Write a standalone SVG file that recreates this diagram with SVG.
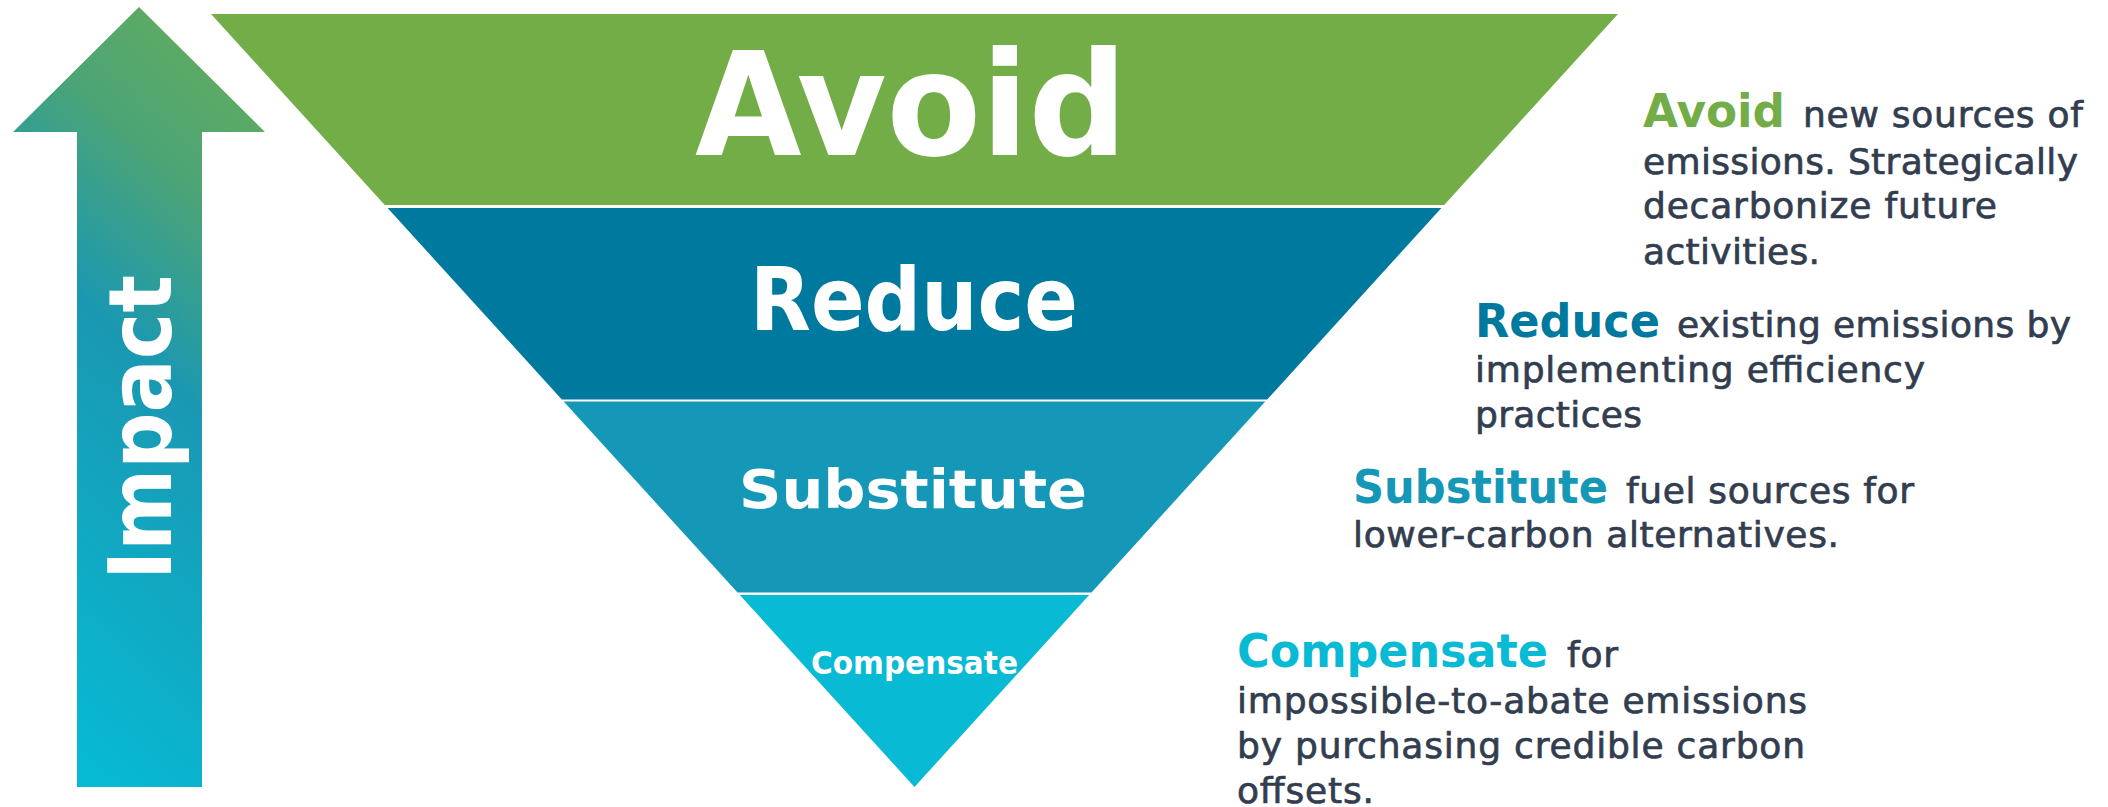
<svg xmlns="http://www.w3.org/2000/svg" width="2108" height="807" viewBox="0 0 2108 807">
  <defs>
    <linearGradient id="arrowGrad" x1="0.65" y1="0" x2="0.35" y2="1">
      <stop offset="0" stop-color="#60AB60"/>
      <stop offset="0.2" stop-color="#4CA476"/>
      <stop offset="0.45" stop-color="#1A98B2"/>
      <stop offset="1" stop-color="#07BAD4"/>
    </linearGradient>
    <style>
      .lbl { font-family: "DejaVu Sans", "Liberation Sans", sans-serif; font-weight: bold; fill: #FFFFFF; text-anchor: middle; }
      .head { font-family: "DejaVu Sans", "Liberation Sans", sans-serif; font-weight: bold; font-size: 47px; }
      .body { font-family: "DejaVu Sans", "Liberation Sans", sans-serif; font-size: 36px; fill: #323D4F; stroke: #323D4F; stroke-width: 0.7px; }
      .c-avoid { fill: #72AD48; }
      .c-reduce { fill: #00799E; }
      .c-subst { fill: #1597B7; }
      .c-comp { fill: #08BAD4; }
    </style>
  </defs>

  <g id="impact-arrow">
    <polygon points="139,7 265,132 202,132 202,787 77,787 77,132 13,132" fill="url(#arrowGrad)"/>
    <text class="lbl" transform="translate(171,427.5) rotate(-90)" font-size="87" textLength="305" lengthAdjust="spacingAndGlyphs">Impact</text>
  </g>

  <g id="band-avoid">
    <polygon class="c-avoid" points="211,14 1618,14 1444.2,205 384.8,205"/>
    <text class="lbl" x="911" y="155" font-size="145" textLength="432" lengthAdjust="spacingAndGlyphs">Avoid</text>
  </g>
  <g id="band-reduce">
    <polygon class="c-reduce" points="387.6,208 1441.4,208 1267.2,399.5 561.8,399.5"/>
    <text class="lbl" x="914" y="330" font-size="87" textLength="328" lengthAdjust="spacingAndGlyphs">Reduce</text>
  </g>
  <g id="band-substitute">
    <polygon class="c-subst" points="563.7,401.5 1265.3,401.5 1091.5,592.5 737.5,592.5"/>
    <text class="lbl" x="913" y="508" font-size="54" textLength="348" lengthAdjust="spacingAndGlyphs">Substitute</text>
  </g>
  <g id="band-compensate">
    <polygon class="c-comp" points="739.8,595 1089.2,595 914.5,787"/>
    <text class="lbl" x="914.5" y="674" font-size="32" textLength="207" lengthAdjust="spacingAndGlyphs">Compensate</text>
  </g>

  <g id="desc-avoid">
    <text class="head c-avoid" x="1643" y="127" textLength="142" lengthAdjust="spacingAndGlyphs">Avoid</text>
    <text class="body" x="1803" y="127" textLength="280">new sources of</text>
    <text class="body" x="1643" y="174" textLength="435">emissions. Strategically</text>
    <text class="body" x="1643" y="218" textLength="354">decarbonize future</text>
    <text class="body" x="1643" y="264" textLength="177">activities.</text>
  </g>
  <g id="desc-reduce">
    <text class="head c-reduce" x="1475" y="337" textLength="185" lengthAdjust="spacingAndGlyphs">Reduce</text>
    <text class="body" x="1677" y="337" textLength="394">existing emissions by</text>
    <text class="body" x="1475" y="382" textLength="450">implementing efficiency</text>
    <text class="body" x="1475" y="427" textLength="167">practices</text>
  </g>
  <g id="desc-substitute">
    <text class="head c-subst" x="1353" y="503" textLength="255" lengthAdjust="spacingAndGlyphs">Substitute</text>
    <text class="body" x="1626" y="503" textLength="288">fuel sources for</text>
    <text class="body" x="1353" y="547" textLength="486">lower-carbon alternatives.</text>
  </g>
  <g id="desc-compensate">
    <text class="head c-comp" x="1237" y="667" textLength="311" lengthAdjust="spacingAndGlyphs">Compensate</text>
    <text class="body" x="1567" y="667" textLength="51">for</text>
    <text class="body" x="1237" y="713" textLength="570">impossible-to-abate emissions</text>
    <text class="body" x="1237" y="758" textLength="568">by purchasing credible carbon</text>
    <text class="body" x="1237" y="803" textLength="137">offsets.</text>
  </g>
</svg>
